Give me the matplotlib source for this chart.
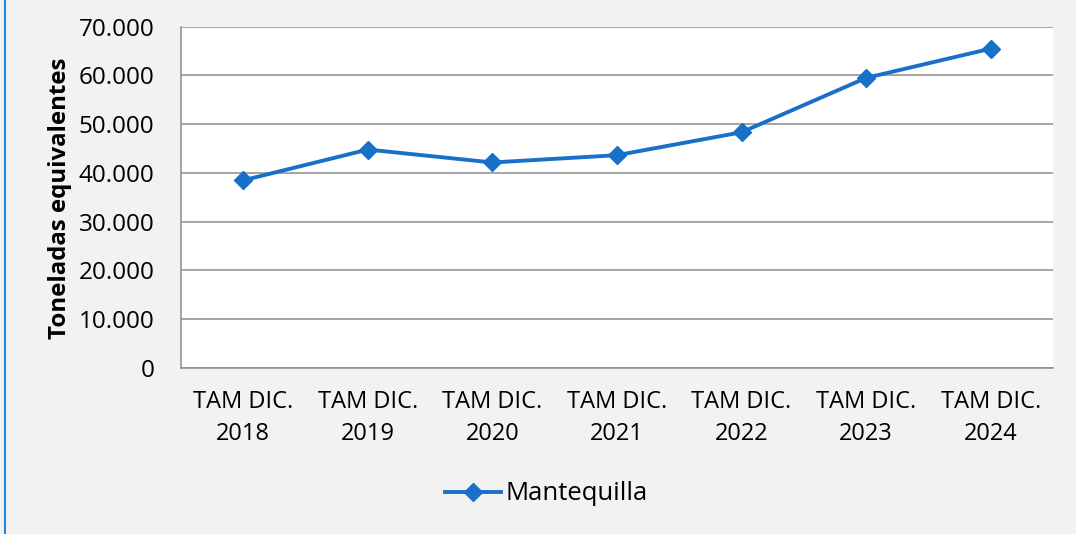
import matplotlib
matplotlib.use("Agg")
from matplotlib import pyplot as plt
from matplotlib.lines import Line2D

categories = ["TAM DIC.\n2018", "TAM DIC.\n2019", "TAM DIC.\n2020", "TAM DIC.\n2021",
              "TAM DIC.\n2022", "TAM DIC.\n2023", "TAM DIC.\n2024"]
mantequilla = [38500, 44800, 42150, 43650, 48350, 59500, 65500]
y_ticks = [0, 10000, 20000, 30000, 40000, 50000, 60000, 70000]
y_tick_labels = ["0", "10.000", "20.000", "30.000", "40.000", "50.000", "60.000", "70.000"]

plt.rcParams['font.family'] = ['Open Sans', 'DejaVu Sans']

W, H = 1076, 534
fig = plt.figure(figsize=(W / 100, H / 100), dpi=100, facecolor='#f2f2f2')
ax = fig.add_axes([181 / W, 1 - 368 / H, (1053 - 181) / W, (368 - 26.7) / H])
ax.set_facecolor('white')

blue = '#1870c8'
x = range(len(categories))
ax.plot(x, mantequilla, color=blue, linewidth=2.8, marker='D', markersize=9.5,
        label='Mantequilla', zorder=3)

ax.set_xlim(-0.5, len(categories) - 0.5)
ax.set_ylim(0, 70000)
ax.set_yticks(y_ticks)
ax.set_yticklabels(y_tick_labels, fontsize=17.5)
ax.set_xticks(list(x))
ax.set_xticklabels(categories, fontsize=17, linespacing=1.45)
ax.tick_params(axis='both', length=0)
ax.tick_params(axis='y', pad=19)
ax.tick_params(axis='x', pad=16)
ax.grid(axis='y', color='#8c8c8c', linewidth=1.1)
ax.set_axisbelow(True)
for side in ['top', 'right']:
    ax.spines[side].set_visible(False)
for side in ['left', 'bottom']:
    ax.spines[side].set_color('#8c8c8c')
    ax.spines[side].set_linewidth(1.1)

fig.text(60 / W, 1 - 198 / H, 'Toneladas equivalentes', rotation=90, fontsize=17.3,
         fontweight='bold', ha='center', va='center')

handle = Line2D([], [], color=blue, linewidth=2.8, marker='D', markersize=9.5)
fig.legend([handle], ['Mantequilla'], loc='center', bbox_to_anchor=(546 / W, 1 - 494 / H),
           frameon=False, fontsize=18.5, handlelength=2.2, handletextpad=0.15)

# thin blue border on the left edge
fig.add_artist(Line2D([4.5 / W, 4.5 / W], [0, 1], color='#2188e0', linewidth=1.5))

fig.savefig('out.png', dpi=100, facecolor=fig.get_facecolor())
